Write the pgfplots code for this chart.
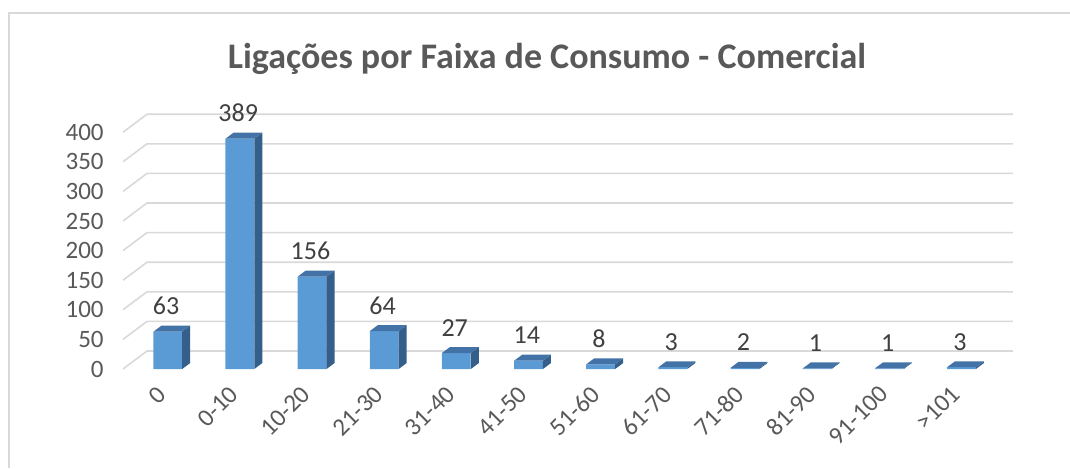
\documentclass[border=0pt]{standalone}
\usepackage{fontspec}
\setmainfont{Carlito}
\usepackage{pgfplots}
\usepackage{pgfplotstable}
\pgfplotsset{compat=1.18}

\definecolor{barfront}{HTML}{5B9BD5}
\definecolor{bartop}{HTML}{4272A6}
\definecolor{barside}{HTML}{355F8B}
\definecolor{gridc}{HTML}{D9D9D9}
\definecolor{txt}{HTML}{595959}
\definecolor{lbl}{HTML}{404040}

\pgfplotstableread{
x v
0 63
1 389
2 156
3 64
4 27
5 14
6 8
7 3
8 2
9 1
10 1
11 3
}\data

% depth of the back wall and of the bars, in axis units
\def\wdx{0.3326}
\def\wdy{30.4}
\def\bdx{0.111}
\def\bdy{10.1}

\begin{document}
\begin{tikzpicture}
\useasboundingbox (0,0) rectangle (535pt,234pt);
\draw[gridc, line width=1pt] (4.5pt,0) -- (4.5pt,227.5pt) -- (535pt,227.5pt);
\node[font=\fontsize{18}{21}\selectfont\bfseries, text=txt, anchor=base, inner sep=0pt]
  at (273.5pt,200pt) {Ligações por Faixa de Consumo - Comercial};

\begin{axis}[
    at={(61.5pt,49.5pt)}, anchor=south west,
    x=36.08pt, y=0.296pt,
    xmin=-0.5, xmax=11.5,
    ymin=0, ymax=400,
    clip=false,
    axis line style={draw=none},
    major tick length=0pt,
    xtick={0,...,11},
    xticklabels={0,0-10,10-20,21-30,31-40,41-50,51-60,61-70,71-80,81-90,91-100,>101},
    ytick={0,50,...,400},
    /pgf/number format/assume math mode=true,
    tick label style={font=\fontsize{12.5}{14}\selectfont, text=txt},
    yticklabel style={anchor=east, inner sep=0pt, xshift=-9.5pt},
    xticklabel style={xshift=-1.5pt, yshift=-7.5pt, rotate=45, anchor=north east, inner sep=0pt},
]
% back wall grid lines
\pgfplotsinvokeforeach{0,50,...,400}{
  \pgfmathsetmacro\gb{#1+\wdy}
  \pgfmathsetmacro\xb{-0.5+\wdx}
  \pgfmathsetmacro\xe{11.5+\wdx}
  \edef\tmp{\noexpand\draw[gridc, line width=0.8pt]
    (axis cs:-0.5,#1) -- (axis cs:\xb,\gb) -- (axis cs:\xe,\gb);}
  \tmp
}
% front faces
\addplot[ybar, fill=barfront, draw=none, bar width=14.4pt, bar shift=4.3pt,
  nodes near coords,
  every node near coord/.append style={font=\fontsize{13}{15}\selectfont, text=lbl,
    anchor=base, inner sep=0pt, xshift=3.5pt, yshift=8.5pt}]
  table[x=x, y=v] {\data};
% side and top faces
\pgfplotsinvokeforeach{0,...,11}{
  \pgfplotstablegetelem{#1}{v}\of\data
  \pgfmathsetmacro\yt{\pgfplotsretval}
  \pgfmathsetmacro\ytb{\pgfplotsretval+\bdy}
  \pgfmathsetmacro\xl{#1-0.08}
  \pgfmathsetmacro\xr{#1+0.32}
  \pgfmathsetmacro\xlb{#1-0.08+\bdx}
  \pgfmathsetmacro\xrb{#1+0.32+\bdx}
  \edef\tmp{%
    \noexpand\fill[barside] (axis cs:\xr,0) -- (axis cs:\xrb,\bdy) -- (axis cs:\xrb,\ytb) -- (axis cs:\xr,\yt) -- cycle;
    \noexpand\fill[bartop] (axis cs:\xl,\yt) -- (axis cs:\xlb,\ytb) -- (axis cs:\xrb,\ytb) -- (axis cs:\xr,\yt) -- cycle;}
  \tmp
}
\end{axis}
\end{tikzpicture}
\end{document}
